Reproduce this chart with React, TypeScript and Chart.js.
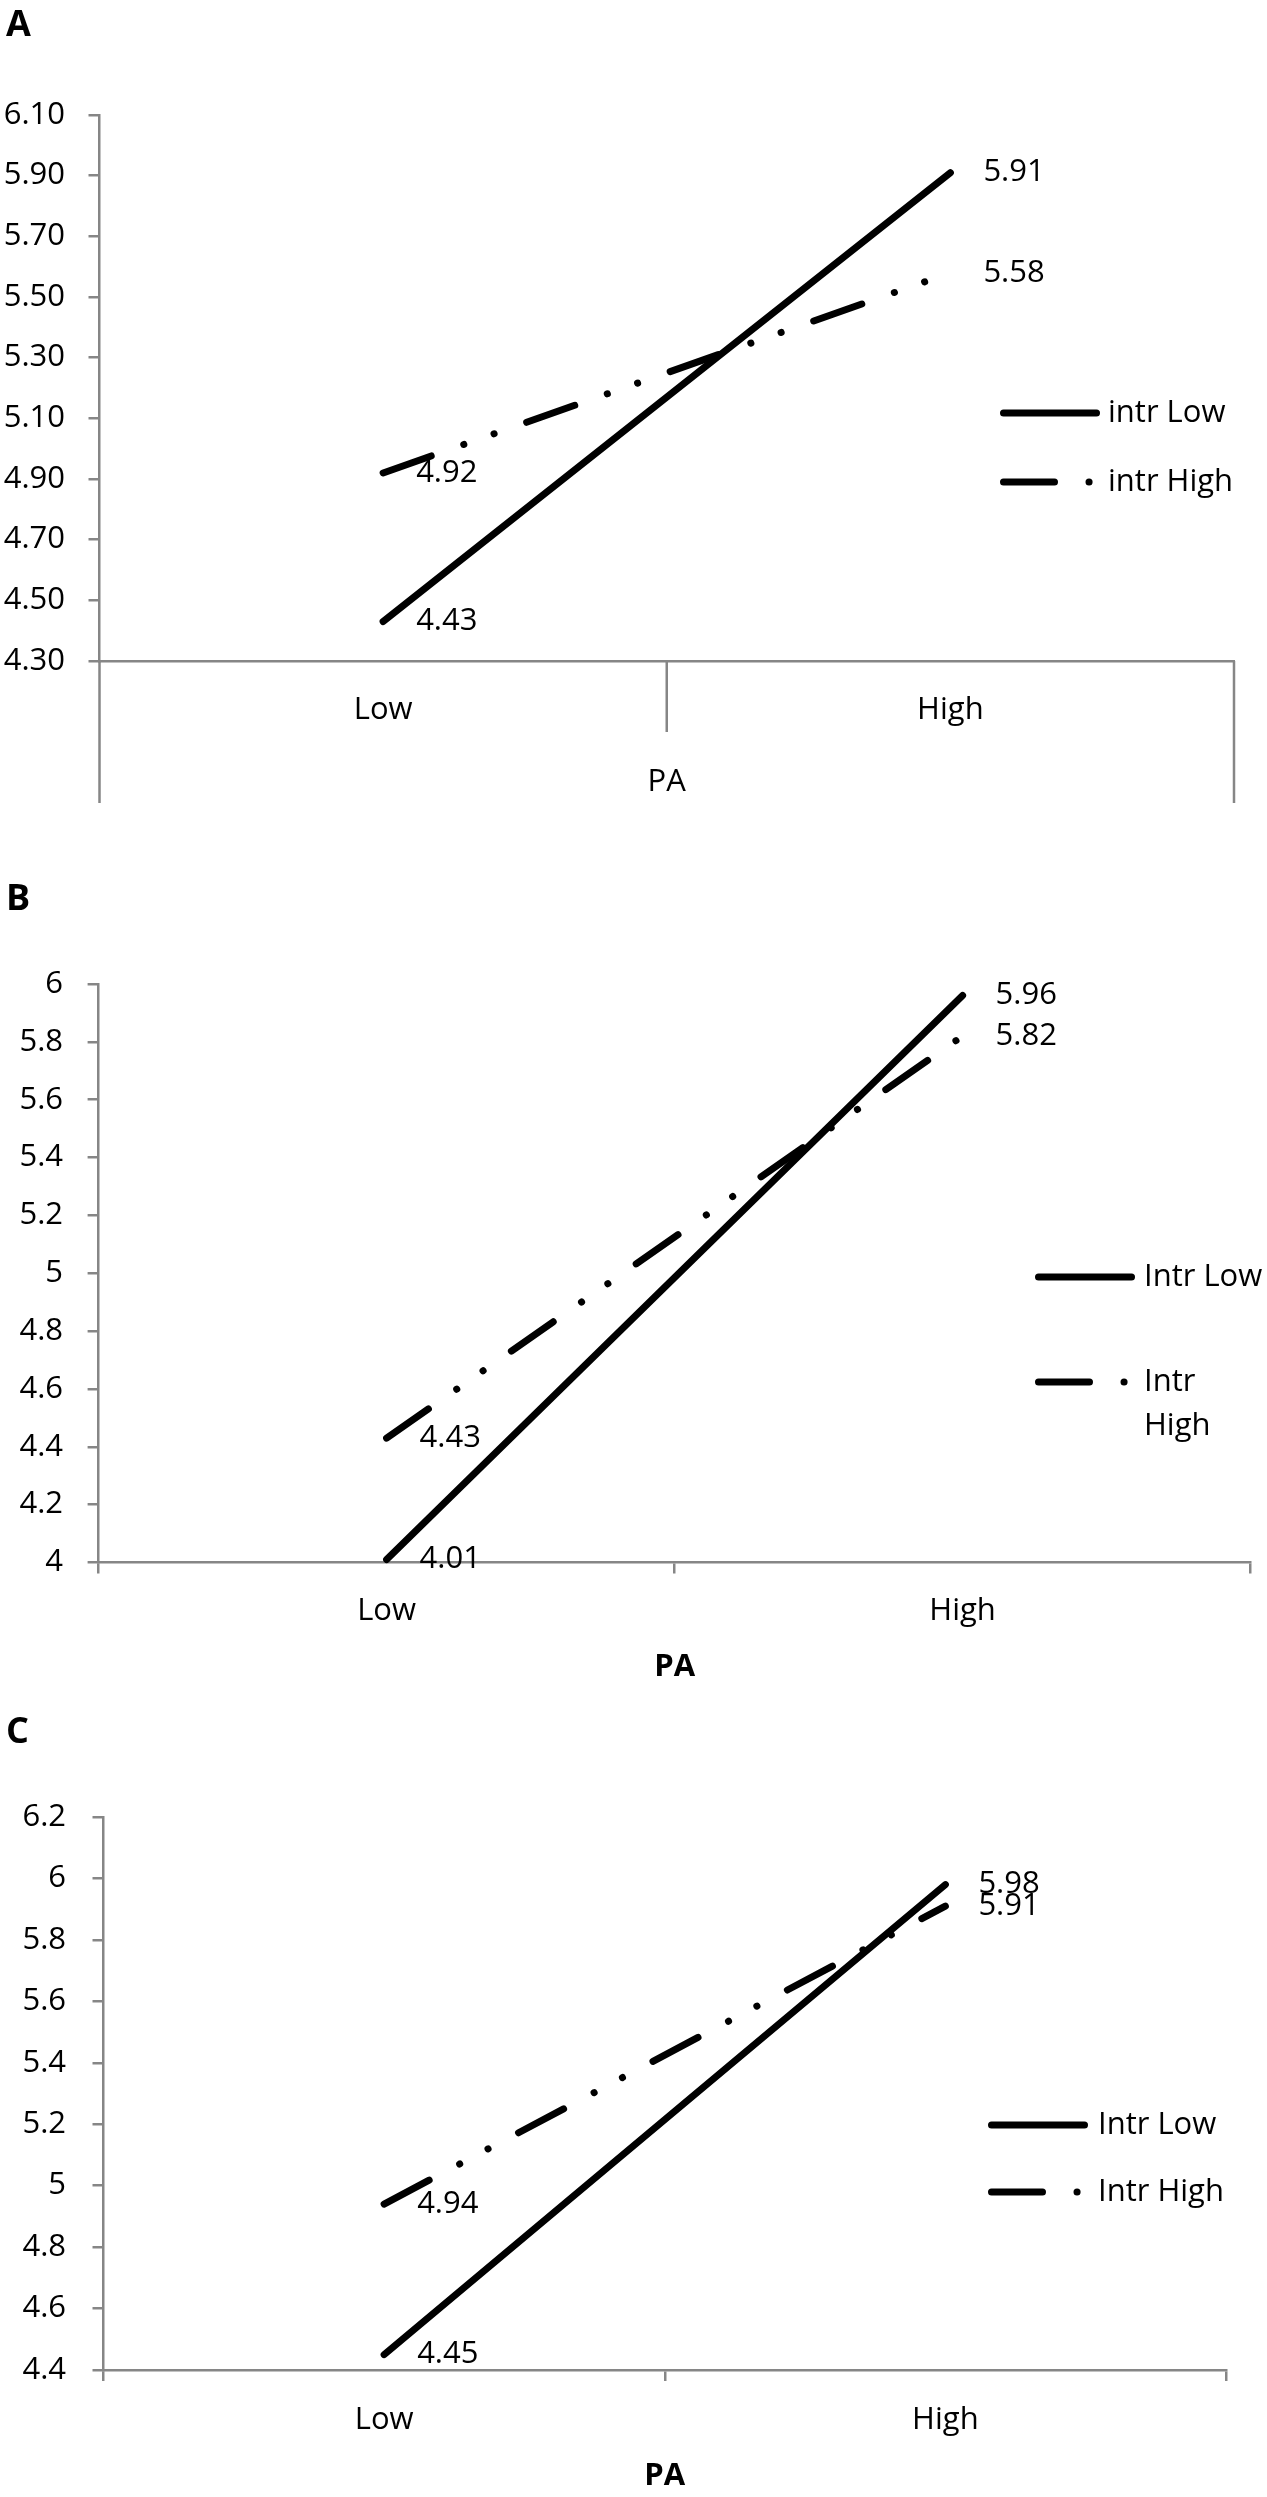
import React, { useEffect, useRef } from 'react';
import Chart from 'chart.js/auto';

Chart.defaults.font.family = '"Open Sans", Lato, sans-serif';
Chart.defaults.color = '#000';

// ---- data ----
const categories = ['Low', 'High'];
const namesA = ['intr Low', 'intr High'];
const namesBC = ['Intr Low', 'Intr High'];

const lowA = [4.43, 5.91];
const highA = [4.92, 5.58];
const lowB = [4.01, 5.96];
const highB = [4.43, 5.82];
const lowC = [4.45, 5.98];
const highC = [4.94, 5.91];

const yTicksA = ['4.30', '4.50', '4.70', '4.90', '5.10', '5.30', '5.50', '5.70', '5.90', '6.10'];
const yTicksB = ['4', '4.2', '4.4', '4.6', '4.8', '5', '5.2', '5.4', '5.6', '5.8', '6'];
const yTicksC = ['4.4', '4.6', '4.8', '5', '5.2', '5.4', '5.6', '5.8', '6', '6.2'];

const AXIS = '#868686';
const LINE_W = 7;
const DASH_DOT_DOT = [51, 34.5, 0.1, 32, 0.1, 34.5];
const FONT = 31;

const panelLetter = {
    id: 'panelLetter',
    afterDraw(chart: any, _args: any, opts: any) {
        const { ctx } = chart;
        ctx.save();
        ctx.font = `bold 36px ${Chart.defaults.font.family}`;
        ctx.fillStyle = '#000';
        ctx.textBaseline = 'middle';
        ctx.textAlign = 'left';
        ctx.fillText(opts.text, opts.x, opts.y);
        ctx.restore();
    }
};

const valueLabels = {
    id: 'valueLabels',
    afterDatasetsDraw(chart: any, _args: any, opts: any) {
        const { ctx } = chart;
        ctx.save();
        ctx.font = `${FONT}px ${Chart.defaults.font.family}`;
        ctx.fillStyle = '#000';
        ctx.textBaseline = 'middle';
        ctx.textAlign = 'left';
        chart.data.datasets.forEach((ds: any, i: number) => {
            const meta = chart.getDatasetMeta(i);
            meta.data.forEach((pt: any, j: number) => {
                ctx.fillText(Number(ds.data[j]).toFixed(2), pt.x + opts.dx, pt.y);
            });
        });
        ctx.restore();
    }
};

const sideLegend = {
    id: 'sideLegend',
    afterDraw(chart: any, _args: any, opts: any) {
        const { ctx } = chart;
        chart.data.datasets.forEach((ds: any, i: number) => {
            const y = opts.rows[i];
            ctx.save();
            ctx.strokeStyle = ds.borderColor;
            ctx.lineWidth = ds.borderWidth;
            ctx.lineCap = 'round';
            ctx.setLineDash(ds.borderDash || []);
            ctx.beginPath();
            ctx.moveTo(opts.x1 + ds.borderWidth / 2, y);
            ctx.lineTo(opts.x2 - ds.borderWidth / 2, y);
            ctx.stroke();
            ctx.setLineDash([]);
            ctx.font = `${FONT}px ${Chart.defaults.font.family}`;
            ctx.fillStyle = '#000';
            ctx.textBaseline = 'middle';
            ctx.textAlign = 'left';
            // wrap like the original legend does when space runs out
            const words = String(ds.label).split(' ');
            const lines: string[] = [];
            let cur = '';
            words.forEach((w) => {
                const t = cur ? cur + ' ' + w : w;
                if (cur && ctx.measureText(t).width > opts.maxWidth) {
                    lines.push(cur);
                    cur = w;
                } else {
                    cur = t;
                }
            });
            lines.push(cur);
            lines.forEach((l, k) => ctx.fillText(l, opts.textX, y + k * opts.lineGap));
            ctx.restore();
        });
    }
};

// two-level category boxes under the x axis (panel A)
const groupLines = {
    id: 'groupLines',
    afterDraw(chart: any, _args: any, opts: any) {
        const { ctx } = chart;
        const x = chart.scales.x;
        const top = chart.chartArea.bottom;
        const mid = (x.getPixelForTick(0) + x.getPixelForTick(1)) / 2;
        ctx.save();
        ctx.strokeStyle = AXIS;
        ctx.lineWidth = 2.5;
        ctx.beginPath();
        ctx.moveTo(x.left, top);
        ctx.lineTo(x.left, top + opts.outer);
        ctx.moveTo(x.right, top);
        ctx.lineTo(x.right, top + opts.outer);
        ctx.moveTo(mid, top);
        ctx.lineTo(mid, top + opts.inner);
        ctx.stroke();
        ctx.restore();
    }
};

interface PanelProps {
    letter: string;
    letterY: number;
    height: number;
    low: number[];
    high: number[];
    names: string[];
    yTicks: string[];
    yWidth: number;
    yPad: number;
    top: number;
    right: number;
    xHeight: number;
    xPad: number;
    titlePad: number;
    boldTitle: boolean;
    twoLevel: boolean;
    legend: { x1: number; x2: number; textX: number; rows: number[]; maxWidth: number; lineGap: number };
}

const Panel: React.FC<PanelProps> = (p) => {
    const canvasRef = useRef<HTMLCanvasElement>(null);

    useEffect(() => {
        const ctx = canvasRef.current?.getContext('2d');
        if (!ctx) return;
        const plugins: any[] = [panelLetter, valueLabels, sideLegend];
        if (p.twoLevel) plugins.push(groupLines);

        const chart = new Chart(ctx, {
            type: 'line',
            data: {
                labels: categories,
                datasets: [
                    {
                        label: p.names[0],
                        data: p.low,
                        borderColor: '#000',
                        borderWidth: LINE_W,
                        borderCapStyle: 'round',
                        borderDash: [],
                        pointRadius: 0,
                        tension: 0,
                        clip: false as any
                    },
                    {
                        label: p.names[1],
                        data: p.high,
                        borderColor: '#000',
                        borderWidth: LINE_W,
                        borderCapStyle: 'round',
                        borderDash: DASH_DOT_DOT,
                        pointRadius: 0,
                        tension: 0,
                        clip: false as any
                    }
                ]
            },
            options: {
                responsive: false,
                animation: false,
                events: [],
                layout: { padding: { top: p.top, right: p.right, bottom: 0, left: 0 } },
                scales: {
                    x: {
                        offset: true,
                        afterFit: (s: any) => { s.height = p.xHeight; },
                        grid: p.twoLevel
                            ? { display: false, drawTicks: false }
                            : { offset: true, drawOnChartArea: false, tickLength: 11, color: AXIS, lineWidth: 2.5 },
                        border: { color: AXIS, width: 2.5 },
                        ticks: { padding: p.xPad, font: { size: FONT }, color: '#000', maxRotation: 0 },
                        title: {
                            display: true,
                            text: 'PA',
                            color: '#000',
                            font: { size: FONT, weight: p.boldTitle ? 'bold' : 'normal' },
                            padding: { top: 0, bottom: p.titlePad }
                        }
                    },
                    y: {
                        min: Number(p.yTicks[0]),
                        max: Number(p.yTicks[p.yTicks.length - 1]),
                        afterBuildTicks: (s: any) => { s.ticks = p.yTicks.map((t) => ({ value: Number(t) })); },
                        afterFit: (s: any) => { s.width = p.yWidth; },
                        grid: { drawOnChartArea: false, tickLength: 11, color: AXIS, lineWidth: 2.5 },
                        border: { color: AXIS, width: 2.5 },
                        ticks: {
                            autoSkip: false,
                            padding: p.yPad,
                            font: { size: FONT },
                            color: '#000',
                            callback: (_v: any, i: number) => p.yTicks[i]
                        }
                    }
                },
                plugins: {
                    legend: { display: false },
                    tooltip: { enabled: false },
                    panelLetter: { text: p.letter, x: 6, y: p.letterY },
                    valueLabels: { dx: 33 },
                    sideLegend: p.legend,
                    groupLines: { outer: 142, inner: 71 }
                } as any
            },
            plugins
        });

        return () => {
            chart.destroy();
        };
    }, [p]);

    return <canvas ref={canvasRef} width={1267} height={p.height} style={{ display: 'block', width: 1267, height: p.height }} />;
};

const panels: PanelProps[] = [
    {
        letter: 'A', letterY: 26, height: 850, low: lowA, high: highA, names: namesA, yTicks: yTicksA,
        yWidth: 99.5, yPad: 23.5, top: 115, right: 33, xHeight: 189, xPad: 30.4, titlePad: 49.4,
        boldTitle: false, twoLevel: true,
        legend: { x1: 1000, x2: 1100, textX: 1108, rows: [413, 482], maxWidth: 1000, lineGap: 44 }
    },
    {
        letter: 'B', letterY: 50, height: 850, low: lowB, high: highB, names: namesBC, yTicks: yTicksB,
        yWidth: 98.6, yPad: 24.6, top: 134, right: 16.4, xHeight: 137.5, xPad: 18.9, titlePad: 14.4,
        boldTitle: true, twoLevel: false,
        legend: { x1: 1035, x2: 1135, textX: 1144, rows: [427, 532], maxWidth: 123, lineGap: 44 }
    },
    {
        letter: 'C', letterY: 33, height: 797, low: lowC, high: highC, names: namesBC, yTicks: yTicksC,
        yWidth: 103.5, yPad: 26.5, top: 117, right: 41, xHeight: 127, xPad: 20.4, titlePad: 2.4,
        boldTitle: true, twoLevel: false,
        legend: { x1: 988, x2: 1088, textX: 1098, rows: [425, 492], maxWidth: 1000, lineGap: 44 }
    }
];

export default function App() {
    return (
        <div style={{ position: 'absolute', left: 0, top: 0, width: 1267, background: '#fff' }}>
            {panels.map((p) => (
                <Panel key={p.letter} {...p} />
            ))}
        </div>
    );
}
